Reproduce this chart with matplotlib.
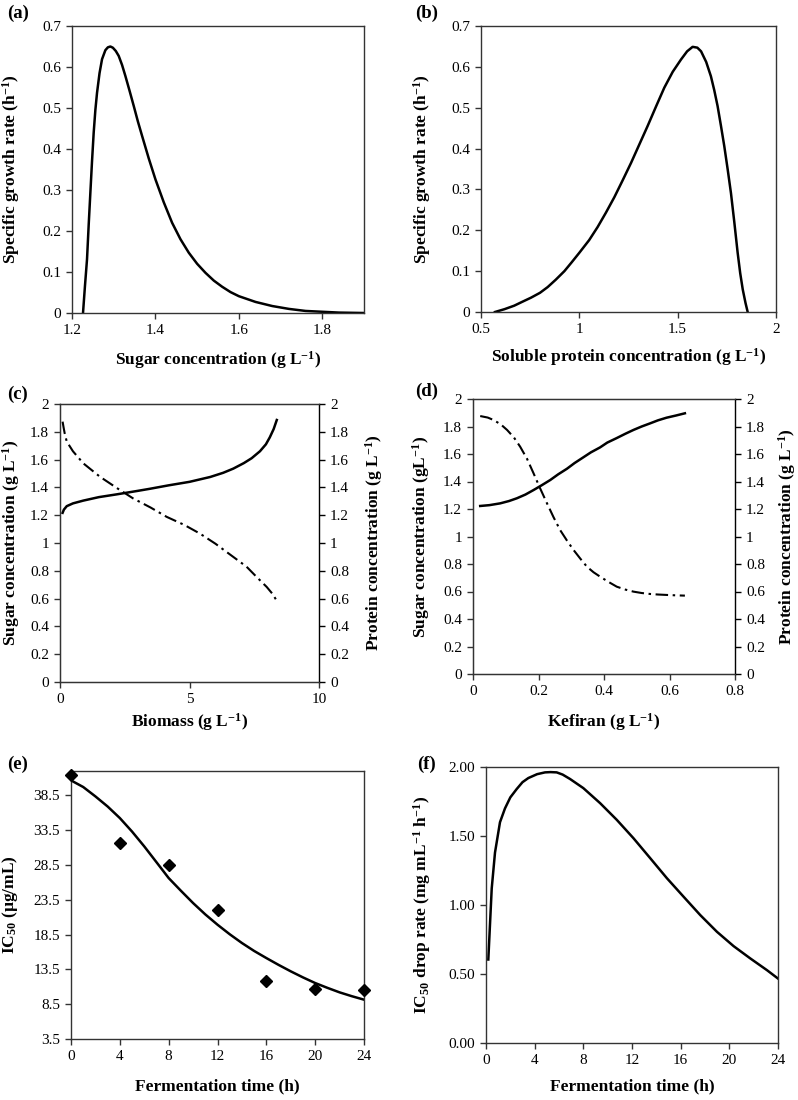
import matplotlib
matplotlib.use("Agg")
import matplotlib.pyplot as plt

plt.rcParams['font.family'] = ['Liberation Serif', 'DejaVu Serif']
plt.rcParams['mathtext.fontset'] = 'custom'
plt.rcParams['mathtext.rm'] = 'Liberation Serif'
plt.rcParams['mathtext.bf'] = 'Liberation Serif:bold'
plt.rcParams['mathtext.it'] = 'Liberation Serif:italic'

# ---- data (a) ----
a_sugar = [1.2264, 1.231, 1.236, 1.240, 1.244, 1.248, 1.252, 1.256, 1.260, 1.266, 1.272, 1.280, 1.286,
           1.292, 1.298, 1.305, 1.312, 1.320, 1.328, 1.338, 1.348, 1.358, 1.368, 1.384, 1.400, 1.420,
           1.440, 1.460, 1.480, 1.500, 1.520, 1.540, 1.560, 1.580, 1.600, 1.640, 1.680, 1.720, 1.760,
           1.800, 1.840, 1.870, 1.900]
a_mu = [0.0, 0.065, 0.131, 0.215, 0.293, 0.370, 0.440, 0.495, 0.537, 0.585, 0.619, 0.641, 0.648,
        0.650, 0.647, 0.639, 0.627, 0.605, 0.578, 0.542, 0.505, 0.467, 0.432, 0.377, 0.326, 0.270,
        0.220, 0.180, 0.147, 0.120, 0.098, 0.079, 0.064, 0.051, 0.041, 0.027, 0.017, 0.010, 0.005,
        0.003, 0.001, 0.0005, 0.0]

# ---- data (b) ----
b_prot = [0.571, 0.62, 0.669, 0.71, 0.754, 0.80, 0.839, 0.88, 0.924, 0.96, 1.0, 1.05, 1.093, 1.135,
          1.178, 1.22, 1.263, 1.305, 1.347, 1.39, 1.432, 1.475, 1.517, 1.548, 1.576, 1.60, 1.619, 1.645,
          1.669, 1.686, 1.703, 1.72, 1.737, 1.754, 1.771, 1.788, 1.805, 1.818, 1.831, 1.845, 1.856]
b_mu = [0.0, 0.007, 0.0155, 0.025, 0.035, 0.047, 0.061, 0.079, 0.10, 0.121, 0.145, 0.176, 0.208, 0.243,
        0.281, 0.322, 0.365, 0.410, 0.455, 0.503, 0.549, 0.588, 0.618, 0.638, 0.649, 0.647, 0.638, 0.612,
        0.577, 0.543, 0.504, 0.456, 0.406, 0.350, 0.291, 0.220, 0.145, 0.095, 0.055, 0.022, 0.0]

# ---- data (c) ----
c_biomass_s = [0.10, 0.15, 0.26, 0.5, 0.9, 1.5, 2.19, 3.0, 3.47, 4.2, 5.0, 5.8, 6.3, 6.69, 7.1,
               7.4, 7.72, 7.95, 8.1, 8.25, 8.37]
c_sugar = [1.217, 1.24, 1.265, 1.285, 1.305, 1.33, 1.35, 1.375, 1.39, 1.415, 1.44, 1.475, 1.505,
           1.535, 1.575, 1.61, 1.66, 1.71, 1.76, 1.82, 1.885]
c_biomass_p = [0.10, 0.14, 0.18, 0.26, 0.5, 0.9, 1.54, 2.2, 2.83, 3.5, 4.12, 4.8, 5.4, 6.0, 6.69,
               7.2, 7.59, 7.98, 8.2, 8.34]
c_protein = [1.873, 1.83, 1.79, 1.73, 1.66, 1.573, 1.477, 1.395, 1.32, 1.255, 1.188, 1.13, 1.068, 0.995,
             0.90, 0.83, 0.756, 0.684, 0.635, 0.593]

# ---- data (d) ----
d_kefiran_s = [0.022, 0.05, 0.083, 0.11, 0.134, 0.16, 0.185, 0.21, 0.236, 0.26, 0.287, 0.31, 0.337,
               0.36, 0.388, 0.41, 0.439, 0.465, 0.49, 0.515, 0.541, 0.565, 0.591, 0.62, 0.647]
d_sugar = [1.222, 1.228, 1.241, 1.258, 1.278, 1.305, 1.338, 1.373, 1.411, 1.452, 1.493, 1.534, 1.576,
           1.612, 1.648, 1.683, 1.716, 1.747, 1.775, 1.800, 1.823, 1.845, 1.864, 1.880, 1.896]
d_kefiran_p = [0.022, 0.045, 0.063, 0.085, 0.104, 0.125, 0.144, 0.165, 0.185, 0.205, 0.226, 0.246, 0.266,
               0.287, 0.307, 0.328, 0.348, 0.368, 0.388, 0.415, 0.439, 0.465, 0.49, 0.515, 0.541, 0.565,
               0.591, 0.62, 0.647]
d_protein = [1.876, 1.865, 1.847, 1.815, 1.775, 1.72, 1.653, 1.565, 1.459, 1.35, 1.241, 1.14, 1.047,
             0.97, 0.902, 0.838, 0.78, 0.74, 0.708, 0.668, 0.635, 0.614, 0.599, 0.589, 0.582, 0.578,
             0.575, 0.572, 0.570]

# ---- data (e) ----
e_time_obs = [0, 4, 8, 12, 16, 20, 24]
e_ic50_obs = [41.4, 31.6, 28.5, 22.0, 11.8, 10.7, 10.5]
e_time_fit = [0, 1, 2, 3, 4, 5, 6, 7, 8, 9, 10, 11, 12, 13, 14, 15, 16, 17, 18, 19, 20, 21, 22, 23, 24]
e_ic50_fit = [40.65, 39.7, 38.35, 36.9, 35.24, 33.3, 31.17, 28.9, 26.62, 24.8, 23.03, 21.4, 19.92,
              18.55, 17.29, 16.15, 15.13, 14.15, 13.22, 12.35, 11.54, 10.85, 10.2, 9.65, 9.15]

# ---- data (f) ----
f_time = [0.19, 0.47, 0.74, 1.15, 1.56, 2.0, 2.52, 3.0, 3.48, 4.2, 4.85, 5.3, 5.81, 6.3, 6.91, 8.0,
          9.38, 10.75, 12.12, 13.5, 14.87, 16.24, 17.61, 18.98, 20.35, 21.72, 23.09, 24.0]
f_rate = [0.605, 1.12, 1.38, 1.60, 1.70, 1.78, 1.84, 1.89, 1.92, 1.948, 1.961, 1.963, 1.961, 1.945,
          1.913, 1.847, 1.738, 1.617, 1.484, 1.339, 1.194, 1.06, 0.927, 0.806, 0.702, 0.613,
          0.528, 0.467]

W, H = 798, 1100
fig = plt.figure(figsize=(W / 100, H / 100), dpi=100)

TICK_FS = 11
LAB_FS = 12.5
PANEL_FS = 13.5
SPINE = '#333333'
DASHDOT = (0, (6, 2.2, 1.2, 2.2))


def make_ax(l, r, t, b):
    ax = fig.add_axes([l / W, 1 - b / H, (r - l) / W, (b - t) / H])
    for s in ax.spines.values():
        s.set_color(SPINE)
        s.set_linewidth(1.0)
    ax.tick_params(direction='out', length=4, width=1.0, labelsize=TICK_FS, color=SPINE, pad=4)
    return ax


def panel(x, y, s):
    fig.text(x / W, 1 - y / H, s, fontsize=PANEL_FS, fontweight='bold', ha='left', va='center')


# (a)
ax = make_ax(72, 364, 26, 313)
ax.plot(a_sugar, a_mu, color='black', lw=1.8)
ax.set_xlim(1.2, 1.9)
ax.set_ylim(0, 0.7)
ax.set_xticks([1.2, 1.4, 1.6, 1.8])
ax.set_xticklabels(['1.2', '1.4', '1.6', '1.8'])
ax.set_yticks([0, 0.1, 0.2, 0.3, 0.4, 0.5, 0.6, 0.7])
ax.set_yticklabels(['0', '0.1', '0.2', '0.3', '0.4', '0.5', '0.6', '0.7'])
ax.set_xlabel(r'Sugar concentration (g L$^{\mathbf{-1}}$)', fontsize=LAB_FS, fontweight='bold')
ax.set_ylabel(r'Specific growth rate (h$^{\mathbf{-1}}$)', fontsize=LAB_FS, fontweight='bold')
ax.xaxis.set_label_coords(0.5, -0.125)
ax.yaxis.set_label_coords(-0.171, 0.5)
panel(7, 13, '(a)')

# (b)
ax = make_ax(481, 776, 26, 312)
ax.plot(b_prot, b_mu, color='black', lw=1.8)
ax.set_xlim(0.5, 2.0)
ax.set_ylim(0, 0.7)
ax.set_xticks([0.5, 1.0, 1.5, 2.0])
ax.set_xticklabels(['0.5', '1', '1.5', '2'])
ax.set_yticks([0, 0.1, 0.2, 0.3, 0.4, 0.5, 0.6, 0.7])
ax.set_yticklabels(['0', '0.1', '0.2', '0.3', '0.4', '0.5', '0.6', '0.7'])
ax.set_xlabel(r'Soluble protein concentration (g L$^{\mathbf{-1}}$)', fontsize=LAB_FS, fontweight='bold')
ax.set_ylabel(r'Specific growth rate (h$^{\mathbf{-1}}$)', fontsize=LAB_FS, fontweight='bold')
ax.xaxis.set_label_coords(0.5, -0.119)
ax.yaxis.set_label_coords(-0.163, 0.5)
panel(415, 13, '(b)')

yt2 = [0, 0.2, 0.4, 0.6, 0.8, 1.0, 1.2, 1.4, 1.6, 1.8, 2.0]
yt2l = ['0', '0.2', '0.4', '0.6', '0.8', '1', '1.2', '1.4', '1.6', '1.8', '2']

# (c)
ax = make_ax(60, 319, 404, 682)
ax.plot(c_biomass_s, c_sugar, color='black', lw=1.8)
ax.set_xlim(0, 10)
ax.set_ylim(0, 2)
ax.set_xticks([0, 5, 10])
ax.set_xticklabels(['0', '5', '10'])
ax.set_yticks(yt2)
ax.set_yticklabels(yt2l)
ax.set_xlabel(r'Biomass (g L$^{\mathbf{-1}}$)', fontsize=LAB_FS, fontweight='bold')
ax.set_ylabel(r'Sugar concentration (g L$^{\mathbf{-1}}$)', fontsize=LAB_FS, fontweight='bold')
ax.xaxis.set_label_coords(0.5, -0.104)
ax.yaxis.set_label_coords(-0.148, 0.5)
ax2 = ax.twinx()
for s in ax2.spines.values():
    s.set_color(SPINE)
ax2.spines['right'].set_color('black')
ax2.tick_params(direction='out', length=4, width=1.0, labelsize=TICK_FS, color='black', pad=4)
ax2.plot(c_biomass_p, c_protein, color='black', lw=1.5, linestyle=DASHDOT)
ax2.set_ylim(0, 2)
ax2.set_yticks(yt2)
ax2.set_yticklabels(yt2l)
ax2.set_ylabel(r'Protein concentration (g L$^{\mathbf{-1}}$)', fontsize=LAB_FS, fontweight='bold')
ax2.yaxis.set_label_coords(1.17, 0.5)
panel(7, 394, '(c)')

# (d)
ax = make_ax(473, 735, 399, 674)
ax.plot(d_kefiran_s, d_sugar, color='black', lw=1.8)
ax.set_xlim(0, 0.8)
ax.set_ylim(0, 2)
ax.set_xticks([0, 0.2, 0.4, 0.6, 0.8])
ax.set_xticklabels(['0', '0.2', '0.4', '0.6', '0.8'])
ax.set_yticks(yt2)
ax.set_yticklabels(yt2l)
ax.set_xlabel(r'Kefiran (g L$^{\mathbf{-1}}$)', fontsize=LAB_FS, fontweight='bold')
ax.set_ylabel(r'Sugar concentration (gL$^{\mathbf{-1}}$)', fontsize=LAB_FS, fontweight='bold')
ax.xaxis.set_label_coords(0.5, -0.135)
ax.yaxis.set_label_coords(-0.156, 0.5)
ax2 = ax.twinx()
for s in ax2.spines.values():
    s.set_color(SPINE)
ax2.spines['right'].set_color('black')
ax2.tick_params(direction='out', length=4, width=1.0, labelsize=TICK_FS, color='black', pad=4)
ax2.plot(d_kefiran_p, d_protein, color='black', lw=1.5, linestyle=DASHDOT)
ax2.set_ylim(0, 2)
ax2.set_yticks(yt2)
ax2.set_yticklabels(yt2l)
ax2.set_ylabel(r'Protein concentration (g L$^{\mathbf{-1}}$)', fontsize=LAB_FS, fontweight='bold')
ax2.yaxis.set_label_coords(1.158, 0.5)
panel(415, 391, '(d)')

# (e)
ax = make_ax(71, 364, 771, 1039)
ax.plot(e_time_fit, e_ic50_fit, color='black', lw=1.8, zorder=2)
ax.plot(e_time_obs, e_ic50_obs, linestyle='none', marker='D', markersize=6.5, color='black',
        clip_on=False, zorder=3)
ax.set_xlim(0, 24)
ax.set_ylim(3.5, 42)
ax.set_xticks([0, 4, 8, 12, 16, 20, 24])
ax.set_yticks([3.5, 8.5, 13.5, 18.5, 23.5, 28.5, 33.5, 38.5])
ax.set_yticklabels(['3.5', '8.5', '13.5', '18.5', '23.5', '28.5', '33.5', '38.5'])
ax.set_xlabel('Fermentation time (h)', fontsize=LAB_FS, fontweight='bold')
ax.set_ylabel(r'IC$_{\mathbf{50}}$ (µg/mL)', fontsize=LAB_FS, fontweight='bold')
ax.xaxis.set_label_coords(0.5, -0.146)
ax.yaxis.set_label_coords(-0.174, 0.5)
panel(7, 764, '(e)')

# (f)
ax = make_ax(486, 778, 767, 1043)
ax.plot(f_time, f_rate, color='black', lw=1.8)
ax.set_xlim(0, 24)
ax.set_ylim(0, 2)
ax.set_xticks([0, 4, 8, 12, 16, 20, 24])
ax.set_yticks([0, 0.5, 1.0, 1.5, 2.0])
ax.set_yticklabels(['0.00', '0.50', '1.00', '1.50', '2.00'])
ax.set_xlabel('Fermentation time (h)', fontsize=LAB_FS, fontweight='bold')
ax.set_ylabel(r'IC$_{\mathbf{50}}$ drop rate (mg mL$^{\mathbf{-1}}$ h$^{\mathbf{-1}}$)', fontsize=LAB_FS,
              fontweight='bold')
ax.xaxis.set_label_coords(0.5, -0.13)
ax.yaxis.set_label_coords(-0.182, 0.5)
panel(417, 764, '(f)')

fig.savefig('out.png', dpi=100, facecolor='white')
